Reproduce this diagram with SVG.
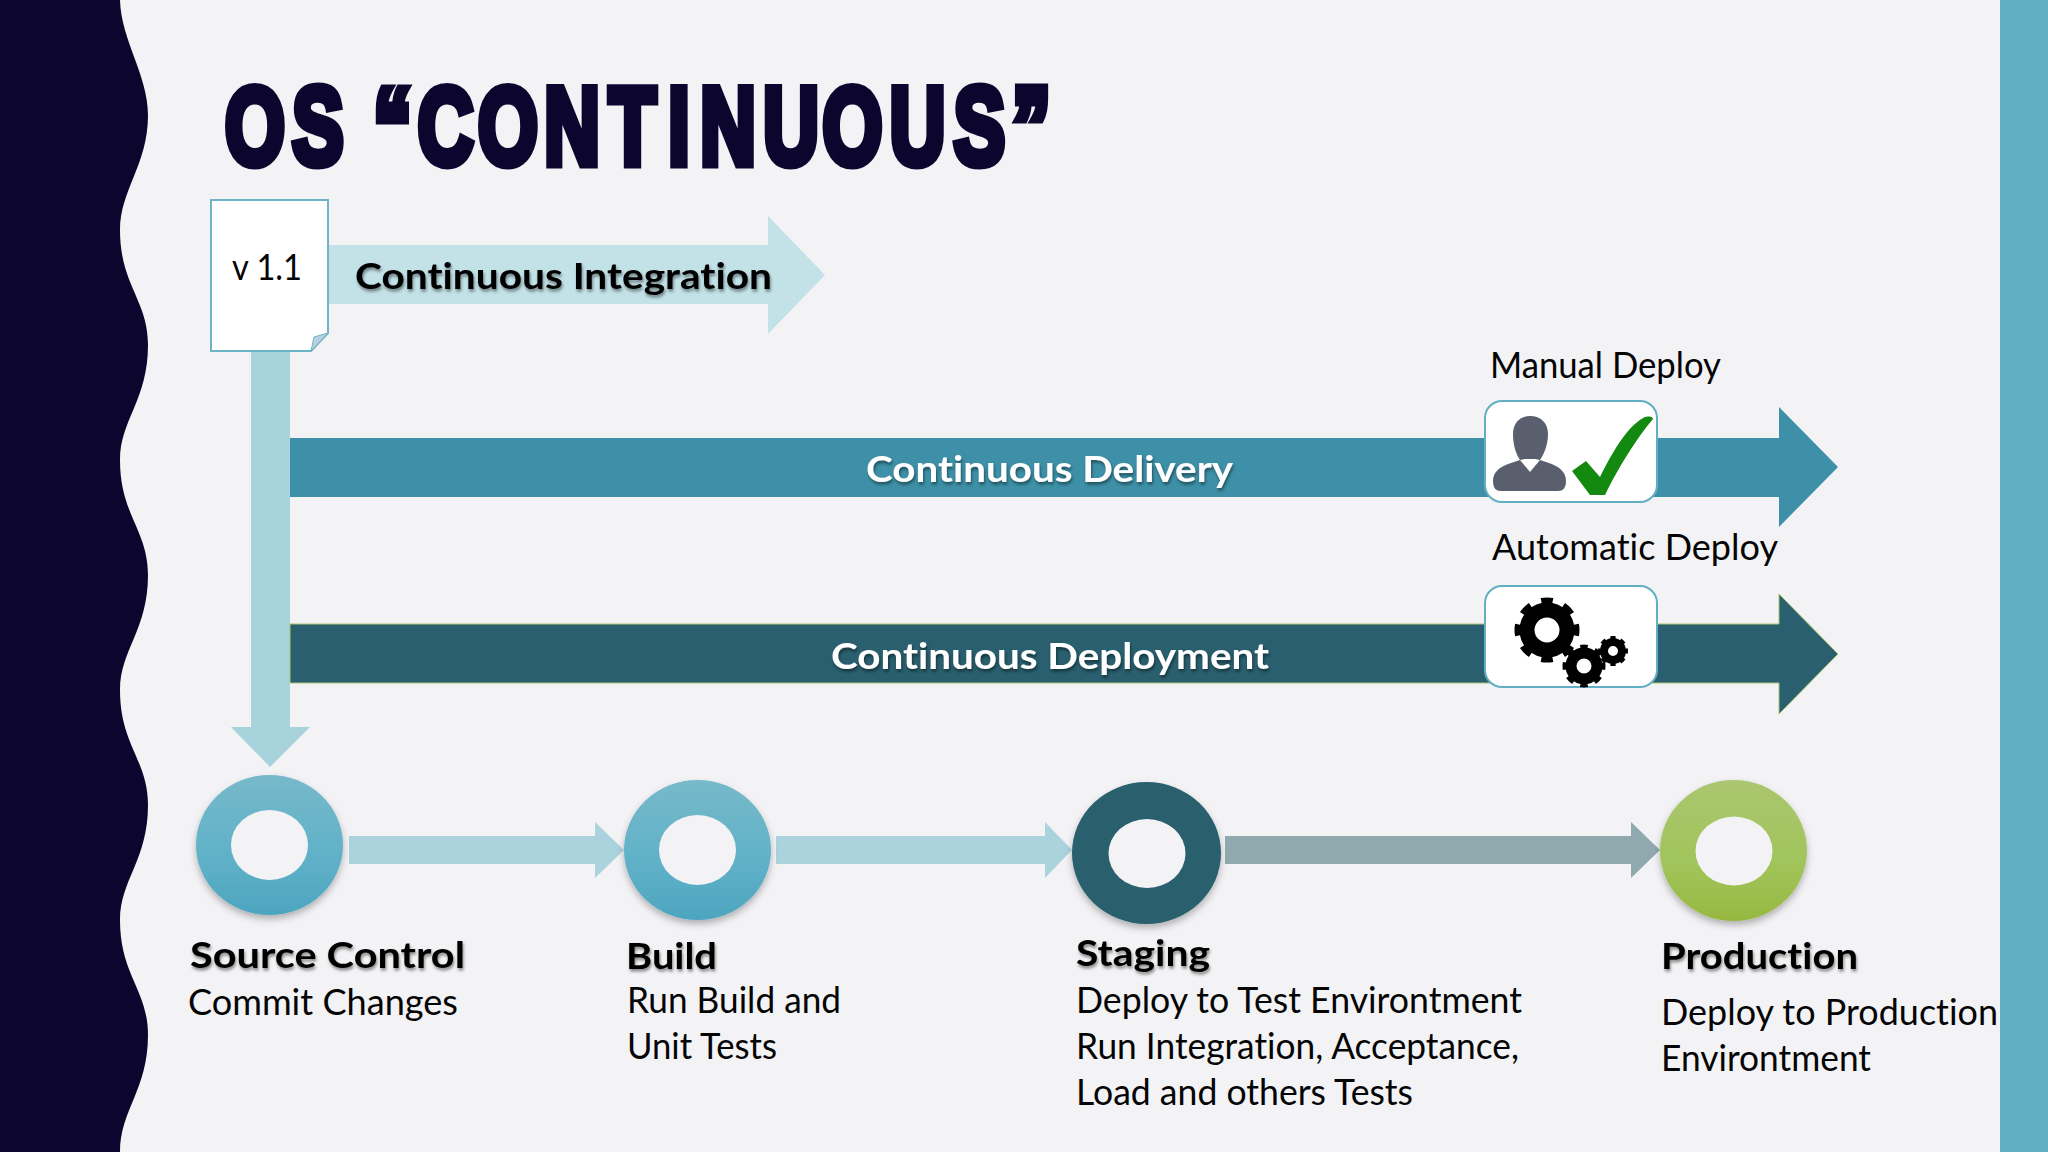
<svg xmlns="http://www.w3.org/2000/svg" width="2048" height="1152" viewBox="0 0 2048 1152">
<style>
.t{font-family:"Lato","Open Sans","Liberation Sans",sans-serif;font-size:36px;fill:#050505;font-variant-ligatures:none}
.b{font-weight:700;filter:url(#ts)}
.w{fill:#fff;font-weight:700;filter:url(#ts)}
.hole{fill:#f3f3f6}
.box{fill:#fff;stroke:#62aec2;stroke-width:2}
.ring{fill:none;stroke:#000}
</style>
<defs>
<filter id="ts" x="-5%" y="-20%" width="110%" height="150%"><feDropShadow dx="1" dy="2.5" stdDeviation="1.6" flood-color="#000" flood-opacity=".45"/></filter>
<filter id="ds" x="-15%" y="-15%" width="130%" height="130%"><feDropShadow dx="0" dy="4" stdDeviation="3.5" flood-color="#000" flood-opacity=".28"/></filter>
<linearGradient id="g1" x1="0" y1="0" x2="0" y2="1"><stop offset="0" stop-color="#77b9ca"/><stop offset=".6" stop-color="#5fb1c8"/><stop offset="1" stop-color="#4da5bf"/></linearGradient>
<linearGradient id="g3" x1="0" y1="0" x2="0" y2="1"><stop offset="0" stop-color="#aac670"/><stop offset=".6" stop-color="#a1c45a"/><stop offset="1" stop-color="#96b841"/></linearGradient>
</defs>
<rect width="2048" height="1152" fill="#f3f3f6"/>
<path d="M0 0H120C121 40 148 75 148 115C148 165 120 190 120 230C120 285 148 300 148 345C148 400 120 420 120 460C120 515 148 530 148 575C148 630 120 650 120 690C120 745 148 760 148 805C148 860 120 880 120 920C120 975 148 990 148 1035C148 1090 120 1110 120 1152H0Z" fill="#0c062e"/>
<rect x="2000" width="48" height="1152" fill="#62aec3"/>
<text transform="translate(0,163.5) scale(.7,1)" x="321.5 417.6 500 533.2 596.7 682.9 777.4 870 954.7 1000.3 1090.3 1175.1 1271 1362.6 1446.1" font-family="Liberation Sans" font-weight="700" font-size="110" fill="#0c062e" stroke="#0c062e" stroke-width="9" stroke-linejoin="miter">OS “CONTINUOUS”</text>
<g id="connectors">
<polygon points="328,245 768,245 768,216 825,275 768,334 768,304 328,304" fill="#c2e2e8"/>
<polygon points="251,350 290,350 290,727 310,727 270,767 231,727 251,727" fill="#a9d3dc"/>
<polygon points="290,438 1779,438 1779,407 1838,467 1779,527 1779,497 290,497" fill="#3d90a7"/>
<polygon points="290,624 1779,624 1779,594 1838,654 1779,714 1779,683 290,683" fill="#295f6e" stroke="#a9c66c" stroke-width="1"/>
<polygon points="349,836 595,836 595,822 624,850 595,878 595,864 349,864" fill="#abd3dd"/>
<polygon points="776,836 1045,836 1045,822 1072,850 1045,878 1045,864 776,864" fill="#abd3dd"/>
<polygon points="1225,836 1631,836 1631,822 1660,850 1631,878 1631,864 1225,864" fill="#8fa9af"/>
<text class="t b" x="355" y="289" textLength="417" lengthAdjust="spacingAndGlyphs">Continuous Integration</text>
<text class="t w" x="866" y="482" textLength="367" lengthAdjust="spacingAndGlyphs">Continuous Delivery</text>
<text class="t w" x="831" y="669" textLength="438" lengthAdjust="spacingAndGlyphs">Continuous Deployment</text>
</g>
<g id="version">
<path d="M211 200H328V333L311 351H211Z" fill="#fff" stroke="#6eb3c6" stroke-width="2"/>
<path d="M328 333L311 351L314 337Z" fill="#b9cfe2" stroke="#6eb3c6" stroke-width="1"/>
<text class="t" x="232" y="280" textLength="70" lengthAdjust="spacingAndGlyphs">v 1.1</text>
</g>
<g id="manual-deploy">
<text class="t" x="1490" y="378" textLength="231" lengthAdjust="spacingAndGlyphs">Manual Deploy</text>
<rect class="box" x="1485" y="401" width="172" height="101" rx="17"/>
<path d="M1513 434C1513 423 1520 416 1530 416C1541 416 1548 423 1548 434C1548 445 1544 454 1540 460L1549 463C1560 467 1566 472 1566 481C1566 488 1563 491 1558 491H1501C1496 491 1493 488 1493 481C1493 472 1499 467 1511 463L1520 460C1516 454 1513 445 1513 434Z" fill="#5a5f6e"/>
<path d="M1520 460L1530 472L1540 460L1535 459H1525Z" fill="#fff"/>
<path d="M1572 471L1586 461L1600 477C1612 453 1626 428 1643 418C1648 416 1652 416 1653 419C1637 438 1618 468 1605 495H1590Z" fill="#14890f"/>
</g>
<g id="automatic-deploy">
<text class="t" x="1492" y="560" textLength="286" lengthAdjust="spacingAndGlyphs">Automatic Deploy</text>
<rect class="box" x="1485" y="586" width="172" height="101" rx="17"/>
<circle class="ring" cx="1547" cy="630" r="20" stroke-width="15"/>
<circle class="ring" cx="1547" cy="630" r="28" stroke-width="9" pathLength="80" stroke-dasharray="5 5" stroke-dashoffset="2.5"/>
<circle class="ring" cx="1584" cy="666" r="13" stroke-width="11"/>
<circle class="ring" cx="1584" cy="666" r="18.5" stroke-width="6" pathLength="80" stroke-dasharray="5 5" stroke-dashoffset="2.5"/>
<circle class="ring" cx="1613" cy="651" r="9" stroke-width="8"/>
<circle class="ring" cx="1613" cy="651" r="13" stroke-width="4" pathLength="80" stroke-dasharray="5 5" stroke-dashoffset="2.5"/>
</g>
<g id="source-control">
<ellipse cx="269.5" cy="845" rx="73.5" ry="70" fill="url(#g1)" filter="url(#ds)"/>
<ellipse class="hole" cx="269.5" cy="845" rx="38.5" ry="35"/>
<text class="t b" x="190" y="968" textLength="275" lengthAdjust="spacingAndGlyphs">Source Control</text>
<text class="t" x="188" y="1015" textLength="270" lengthAdjust="spacingAndGlyphs">Commit Changes</text>
</g>
<g id="build">
<ellipse cx="697.5" cy="850" rx="73.5" ry="70" fill="url(#g1)" filter="url(#ds)"/>
<ellipse class="hole" cx="697.5" cy="850" rx="38.5" ry="35"/>
<text class="t b" x="626" y="969" textLength="91" lengthAdjust="spacingAndGlyphs">Build</text>
<text class="t" x="627" y="1013" textLength="214" lengthAdjust="spacingAndGlyphs">Run Build and</text>
<text class="t" x="627" y="1059" textLength="150" lengthAdjust="spacingAndGlyphs">Unit Tests</text>
</g>
<g id="staging">
<ellipse cx="1146.5" cy="853" rx="74.5" ry="71" fill="#295f6e" filter="url(#ds)"/>
<ellipse class="hole" cx="1147" cy="853.5" rx="38.5" ry="34.5"/>
<text class="t b" x="1076" y="966" textLength="134" lengthAdjust="spacingAndGlyphs">Staging</text>
<text class="t" x="1076" y="1013" textLength="446" lengthAdjust="spacingAndGlyphs">Deploy to Test Environtment</text>
<text class="t" x="1076" y="1059" textLength="443" lengthAdjust="spacingAndGlyphs">Run Integration, Acceptance,</text>
<text class="t" x="1076" y="1105" textLength="337" lengthAdjust="spacingAndGlyphs">Load and others Tests</text>
</g>
<g id="production">
<ellipse cx="1733.5" cy="850.5" rx="73.5" ry="70.5" fill="url(#g3)" filter="url(#ds)"/>
<ellipse class="hole" cx="1734" cy="851" rx="38.5" ry="34.5"/>
<text class="t b" x="1661" y="969" textLength="197" lengthAdjust="spacingAndGlyphs">Production</text>
<text class="t" x="1661" y="1025" textLength="337" lengthAdjust="spacingAndGlyphs">Deploy to Production</text>
<text class="t" x="1661" y="1071" textLength="210" lengthAdjust="spacingAndGlyphs">Environtment</text>
</g>
</svg>
